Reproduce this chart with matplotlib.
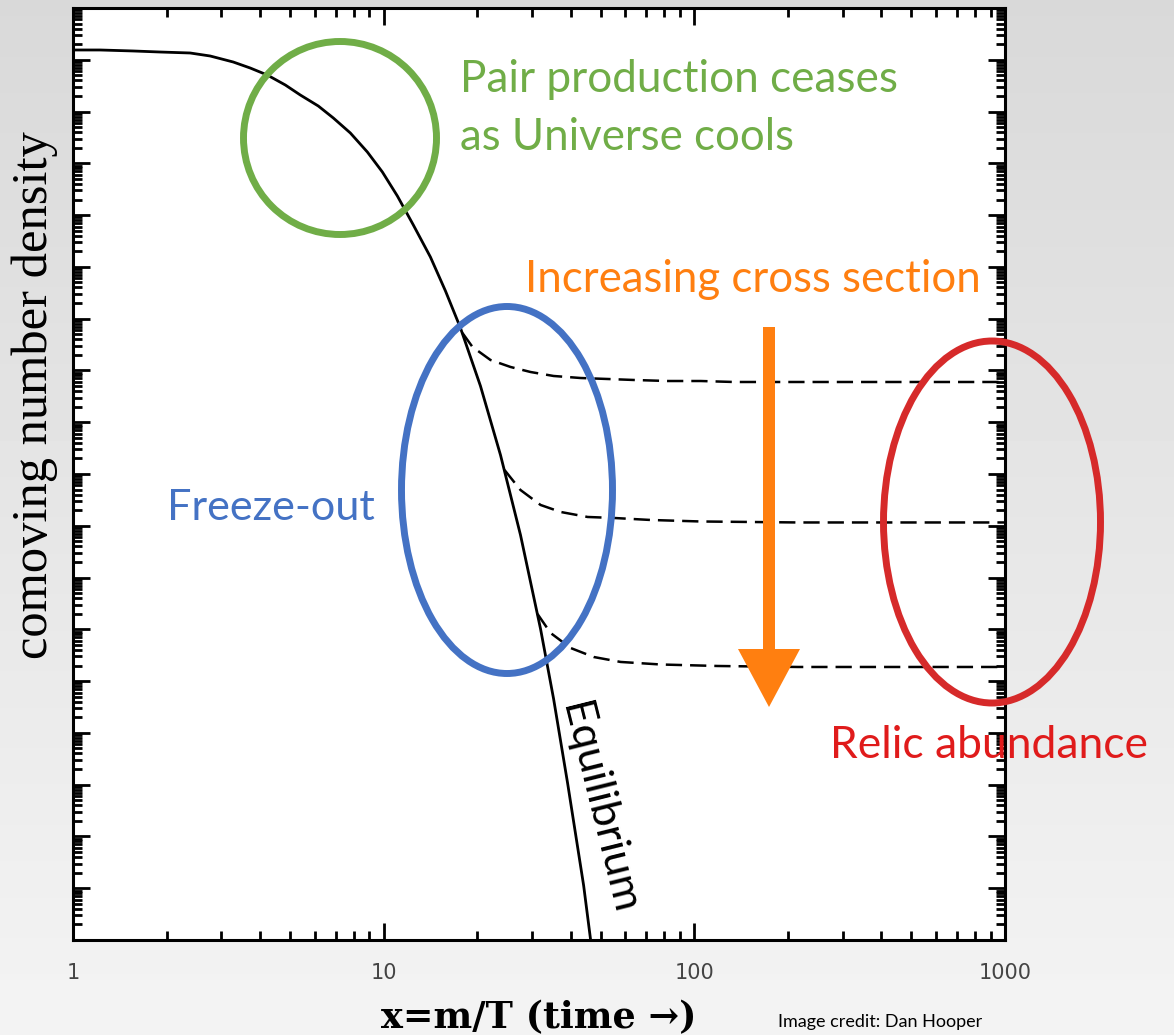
import numpy as np
import matplotlib
matplotlib.use("Agg")
import matplotlib.pyplot as plt
from matplotlib.patches import Ellipse, FancyArrow
from matplotlib.ticker import LogLocator, FixedLocator, FixedFormatter, NullFormatter

# ---- data -------------------------------------------------------------
# equilibrium comoving number density vs x = m/T (log10 of density)
eq_x = [1.000, 1.222, 1.561, 1.907, 2.383, 2.764, 3.279, 3.719, 4.220, 4.824,
        5.390, 6.161, 6.885, 7.812, 8.861, 9.904, 11.07, 12.46, 14.14, 15.81,
        17.67, 20.49, 23.77, 27.57, 31.99, 35.24, 39.08, 44.02, 46.36]
eq_logn = [-2.811, -2.811, -2.830, -2.850, -2.869, -2.927, -3.043, -3.159, -3.294, -3.487,
           -3.680, -3.893, -4.124, -4.414, -4.781, -5.167, -5.631, -6.191, -6.809, -7.465,
           -8.180, -9.300, -10.633, -12.178, -13.993, -15.345, -16.967, -18.946, -19.999]

# freeze-out tracks for three annihilation cross sections
fo1_x = [17.93, 19.32, 22.07, 25.61, 29.70, 35.24, 43.05, 52.60, 63.77, 82.08,
         104.9, 134.0, 172.4, 215.5, 1000.0]
fo1_logn = [-8.277, -8.547, -8.798, -8.933, -9.030, -9.107, -9.146, -9.165, -9.184, -9.204,
            -9.204, -9.223, -9.223, -9.223, -9.223]

fo2_x = [24.49, 27.57, 31.99, 37.11, 45.35, 55.01, 72.35, 104.9, 215.5, 1000.0]
fo2_logn = [-10.922, -11.309, -11.598, -11.733, -11.830, -11.849, -11.888, -11.917, -11.936, -11.936]

fo3_x = [31.28, 34.45, 39.96, 47.41, 57.91, 77.96, 119.0, 215.5, 1000.0]
fo3_logn = [-13.704, -14.070, -14.360, -14.534, -14.630, -14.679, -14.708, -14.727, -14.727]

x_ticks = [1, 10, 100, 1000]
x_tick_labels = ["1", "10", "100", "1000"]

# ---- figure -----------------------------------------------------------
W, H = 1174, 1035
fig = plt.figure(figsize=(W / 100, H / 100), dpi=100)

# soft grey slide background
bg = fig.add_axes([0, 0, 1, 1], zorder=-10)
grad = np.linspace(0.85, 0.955, 256)[:, None]
bg.imshow(grad, cmap="gray", vmin=0, vmax=1, aspect="auto", extent=[0, 1, 0, 1],
          origin="upper")
bg.axis("off")

L, R, T, B = 73, 1005, 8, 940
ax = fig.add_axes([L / W, 1 - B / H, (R - L) / W, (B - T) / H])
ax.set_facecolor("white")


def px2ax(px, py):
    return (px - L) / (R - L), (B - py) / (B - T)


ax.plot(eq_x, 10 ** np.array(eq_logn), color="black", lw=2.0, solid_joinstyle="round")
for xs, ls in [(fo1_x, fo1_logn), (fo2_x, fo2_logn), (fo3_x, fo3_logn)]:
    ax.plot(xs, 10 ** np.array(ls), color="black", lw=1.8, dashes=(6.5, 3.2))

ax.set_xscale("log")
ax.set_yscale("log")
ax.set_xlim(1, 1000)
ax.set_ylim(1e-20, 1e-2)

ax.xaxis.set_major_locator(FixedLocator(x_ticks))
ax.xaxis.set_major_formatter(FixedFormatter(x_tick_labels))
ax.xaxis.set_minor_locator(LogLocator(base=10, subs=np.arange(2, 10), numticks=100))
ax.xaxis.set_minor_formatter(NullFormatter())
ax.yaxis.set_major_locator(LogLocator(base=10, numticks=100))
ax.yaxis.set_minor_locator(LogLocator(base=10, subs=np.arange(2, 10), numticks=100))
ax.yaxis.set_major_formatter(NullFormatter())
ax.yaxis.set_minor_formatter(NullFormatter())

ax.tick_params(which="both", direction="in", top=True, right=True, color="black")
ax.tick_params(which="major", length=12, width=2.0)
ax.tick_params(which="minor", length=6.5, width=2.0)
ax.tick_params(axis="x", which="major", pad=16.5, labelsize=15, labelcolor="#444444")
for lab in ax.get_xticklabels():
    lab.set_fontfamily("DejaVu Sans")
for sp in ax.spines.values():
    sp.set_linewidth(2.2)

renderer = fig.canvas.get_renderer()


def fit(txt, target):
    w = txt.get_window_extent(renderer).width
    txt.set_fontsize(txt.get_fontsize() * target / w)


# axis titles
xl = ax.set_xlabel("x=m/T (time \u2192)", family="DejaVu Serif", fontweight="bold",
                   fontsize=24, va="center", ha="center")
ax.xaxis.set_label_coords(*px2ax(539, 1018))
fit(xl, 316)

yl = ax.set_ylabel("comoving number density", family="Liberation Serif", fontsize=34,
                   va="center", ha="center")
ax.yaxis.set_label_coords(*px2ax(35, 395))
yl.set_rotation(0)
fit(yl, 530)
yl.set_rotation(90)

# annotation shapes
GREEN, BLUE, RED, ORANGE = "#70AD47", "#4472C4", "#D62A2A", "#FF7F10"
for (cx, cy, w, h, c) in [(340, 138, 193, 193, GREEN),
                          (507, 490, 211, 367, BLUE),
                          (992, 522, 217, 362, RED)]:
    ax.add_patch(Ellipse(px2ax(cx, cy), w / (R - L), h / (B - T), transform=ax.transAxes,
                         fill=False, ec=c, lw=5.0, clip_on=False, zorder=5))

ax0 = px2ax(769, 327)
ax1 = px2ax(769, 707)
ax.add_patch(FancyArrow(ax0[0], ax0[1], 0, ax1[1] - ax0[1], width=12 / (R - L),
                        head_width=62 / (R - L), head_length=58 / (B - T),
                        length_includes_head=True, color=ORANGE, lw=0,
                        transform=ax.transAxes, clip_on=False, zorder=6))

# annotation texts: (string, left px, right px, centre y px, colour)
notes = [("Pair production ceases", 460, 898, 80, GREEN),
         ("as Universe cools", 460, 794, 137, GREEN),
         ("Increasing cross section", 525, 980, 280, ORANGE),
         ("Freeze-out", 167, 375, 508, BLUE),
         ("Relic abundance", 830, 1147, 746, "#E01B1B")]
for s, x0, x1, yc, c in notes:
    t = fig.text(x0 / W, 1 - yc / H, s, color=c, family="Lato", fontsize=30,
                 ha="left", va="center", zorder=10)
    fit(t, x1 - x0)

eq_lbl = fig.text(599 / W, 1 - 808 / H, "Equilibrium", color="black", family="Lato",
                  fontsize=30, ha="center", va="center", rotation_mode="anchor", zorder=10)
fit(eq_lbl, 215)
eq_lbl.set_rotation(-76)

fig.text(778 / W, 1 - 1022 / H, "Image credit: Dan Hooper", color="black", family="Lato",
         fontsize=13, ha="left", va="center")

fig.savefig("out.png", dpi=100)
